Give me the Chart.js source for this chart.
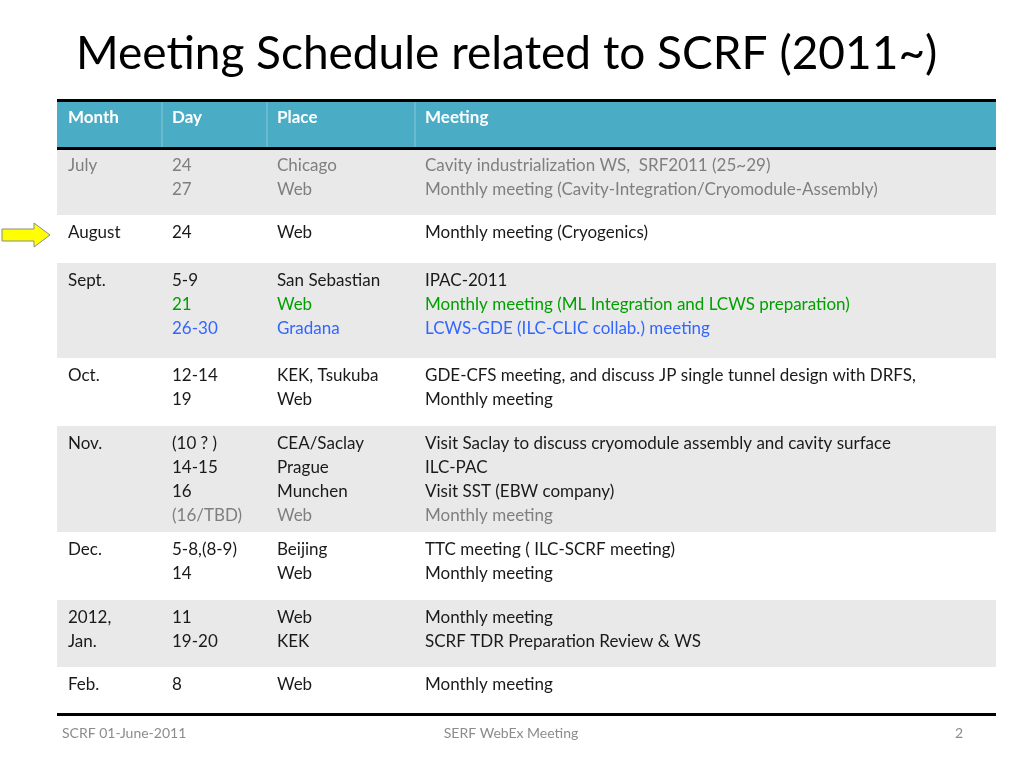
<!DOCTYPE html>
<html><head><meta charset="utf-8">
<script src="https://cdn.jsdelivr.net/npm/chart.js"></script>
<style>html,body{margin:0;padding:0;background:#fff}canvas{display:block}</style>
</head><body>
<canvas id="c" width="1024" height="768"></canvas>
<script>
const title = "Meeting Schedule related to SCRF (2011~)";
const headers = ["Month","Day","Place","Meeting"];
const months = ["July","August","Sept.","Oct.","Nov.","Dec.","2012,\nJan.","Feb."];
const days = [["24","27"],["24"],["5-9","21","26-30"],["12-14","19"],["(10 ? )","14-15","16","(16/TBD)"],["5-8,(8-9)","14"],["11","19-20"],["8"]];
const places = [["Chicago","Web"],["Web"],["San Sebastian","Web","Gradana"],["KEK, Tsukuba","Web"],["CEA/Saclay","Prague","Munchen","Web"],["Beijing","Web"],["Web","KEK"],["Web"]];
const meetings = [
 ["Cavity industrialization WS,  SRF2011 (25~29)","Monthly meeting (Cavity-Integration/Cryomodule-Assembly)"],
 ["Monthly meeting (Cryogenics)"],
 ["IPAC-2011","Monthly meeting (ML Integration and LCWS preparation)","LCWS-GDE (ILC-CLIC collab.) meeting"],
 ["GDE-CFS meeting, and discuss JP single tunnel design with DRFS,","Monthly meeting"],
 ["Visit Saclay to discuss cryomodule assembly and cavity surface","ILC-PAC","Visit SST (EBW company)","Monthly meeting"],
 ["TTC meeting ( ILC-SCRF meeting)","Monthly meeting"],
 ["Monthly meeting","SCRF TDR Preparation Review & WS"],
 ["Monthly meeting"]];
const footer = ["SCRF 01-June-2011","SERF WebEx Meeting","2"];

// layout (pixels)
const rowEdges = [148,215,263,358,426,532,600,667,714];
const colX = [68,172,277,425];
const GRAY="#7f7f7f", GREEN="#00a000", BLUE="#3366ff", DARK="#1a1a1a";
function lineColor(r,l){
  if(r===0) return GRAY;
  if(r===2&&l===1) return GREEN;
  if(r===2&&l===2) return BLUE;
  if(r===4&&l===3) return GRAY;
  return DARK;
}
const F='"Lato","Open Sans",sans-serif';

const tablePlugin={id:'tbl',afterDraw(chart){
  const ctx=chart.ctx, X=chart.scales.x, Y=chart.scales.y;
  const px=v=>X.getPixelForValue(v), py=v=>Y.getPixelForValue(v);
  ctx.save();
  ctx.fillStyle="#000";ctx.font="46px "+F;ctx.textBaseline="middle";
  ctx.fillText(title,px(76),py(54));
  // header
  ctx.fillStyle="#4bacc6";ctx.fillRect(px(57),py(100),px(996)-px(57),py(148)-py(100));
  ctx.strokeStyle="rgba(255,255,255,0.35)";ctx.lineWidth=1;
  [162,267,415].forEach(x=>{ctx.beginPath();ctx.moveTo(px(x),py(101));ctx.lineTo(px(x),py(147));ctx.stroke();});
  ctx.fillStyle="#fff";ctx.font="bold 17px "+F;
  headers.forEach((h,i)=>ctx.fillText(h,px(colX[i]),py(118)));
  // rows
  for(let r=0;r<months.length;r++){
    const top=rowEdges[r],bot=rowEdges[r+1];
    if(r%2===0){ctx.fillStyle="#e9e9e9";ctx.fillRect(px(57),py(top),px(996)-px(57),py(bot)-py(top));}
    ctx.font="17px "+F;
    const cols=[months[r].split("\n"),days[r],places[r],meetings[r]];
    cols.forEach((lines,ci)=>lines.forEach((t,l)=>{
      ctx.fillStyle=lineColor(r,l);
      ctx.fillText(t,px(colX[ci]),py(top+18+24*l));
    }));
  }
  ctx.fillStyle="#000";
  ctx.fillRect(px(57),py(99),px(996)-px(57),3);
  ctx.fillRect(px(57),py(147),px(996)-px(57),3);
  ctx.fillRect(px(57),py(713),px(996)-px(57),3);
  // footer
  ctx.fillStyle="#8c8c8c";ctx.font="14px "+F;
  ctx.fillText(footer[0],px(62),py(733));
  ctx.textAlign="center";ctx.fillText(footer[1],px(511),py(733));
  ctx.textAlign="right";ctx.fillText(footer[2],px(963),py(733));
  // arrow
  ctx.beginPath();
  ctx.moveTo(px(2),py(229));ctx.lineTo(px(34),py(229));ctx.lineTo(px(34),py(223));
  ctx.lineTo(px(50),py(235));ctx.lineTo(px(34),py(247));ctx.lineTo(px(34),py(241));
  ctx.lineTo(px(2),py(241));ctx.closePath();
  ctx.fillStyle="#ffff00";ctx.fill();ctx.strokeStyle="#8a8a8a";ctx.lineWidth=1;ctx.stroke();
  ctx.restore();
}};

new Chart(document.getElementById('c'),{
  type:'scatter',
  data:{datasets:[{data:[]}]},
  options:{responsive:false,animation:false,
    layout:{padding:0},
    plugins:{legend:{display:false},tooltip:{enabled:false}},
    scales:{x:{type:'linear',min:0,max:1024,display:false},
            y:{type:'linear',min:0,max:768,reverse:true,display:false}}},
  plugins:[tablePlugin]
});
</script>
</body></html>
